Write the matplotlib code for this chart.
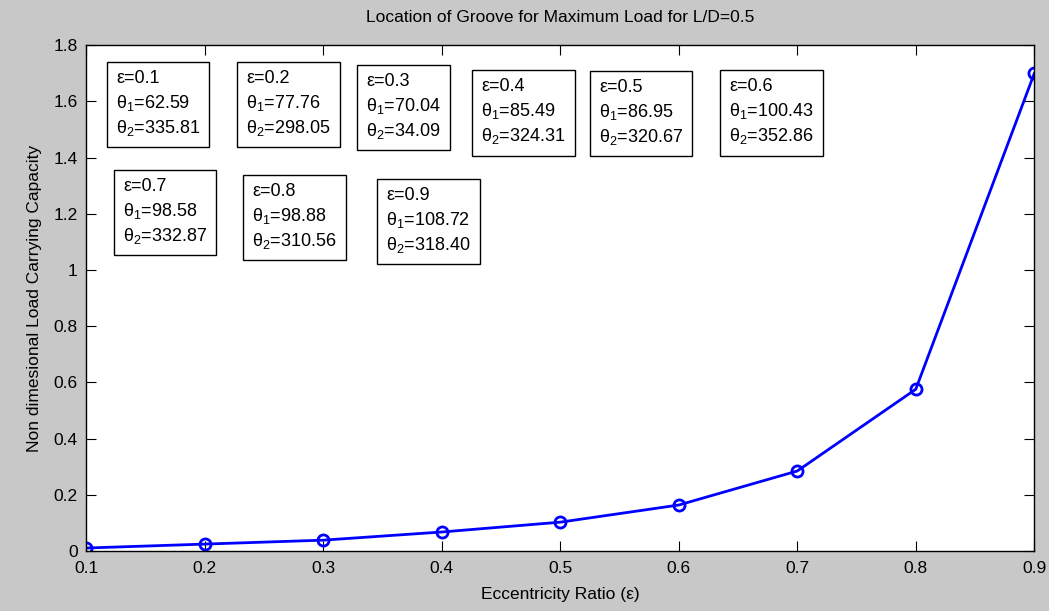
import numpy as np
import matplotlib.pyplot as plt

plt.rcParams['font.family'] = ['Liberation Sans', 'DejaVu Sans']
plt.rcParams['mathtext.fontset'] = 'custom'
plt.rcParams['mathtext.rm'] = 'Liberation Sans'

# eccentricity ratio and non-dimensional load
ecc = [0.1, 0.2, 0.3, 0.4, 0.5, 0.6, 0.7, 0.8, 0.9]
load = [0.011, 0.025, 0.039, 0.068, 0.103, 0.164, 0.285, 0.576, 1.70]

# groove angles for each eccentricity
theta1 = ['62.59', '77.76', '70.04', '85.49', '86.95', '100.43', '98.58', '98.88', '108.72']
theta2 = ['335.81', '298.05', '34.09', '324.31', '320.67', '352.86', '332.87', '310.56', '318.40']

# upper-left corner of each annotation text (data units)
box_x = [0.1253, 0.2350, 0.3363, 0.4333, 0.5329, 0.6426, 0.1312, 0.2401, 0.3532]
box_y = [1.711, 1.711, 1.700, 1.682, 1.679, 1.682, 1.327, 1.309, 1.295]

fig = plt.figure(figsize=(10.49, 6.11), dpi=100, facecolor='#c8c8c8')
ax = fig.add_axes([0.082, 0.098, 0.904, 0.828])
ax.set_facecolor('white')

ax.plot(ecc, load, color='blue', linewidth=2, marker='o', markersize=8,
        markerfacecolor='none', markeredgecolor='blue', markeredgewidth=2)

for i in range(len(ecc)):
    txt = 'ε=%.1f\nθ$_1$=%s\nθ$_2$=%s' % (ecc[i], theta1[i], theta2[i])
    ax.text(box_x[i], box_y[i], txt, fontsize=13, va='top', ha='left',
            linespacing=1.37,
            bbox=dict(boxstyle='square,pad=0.5', facecolor='white',
                      edgecolor='black', linewidth=1))

ax.set_xlim(0.1, 0.9)
ax.set_ylim(0, 1.8)
ax.set_xticks(np.arange(0.1, 0.91, 0.1))
ax.set_yticks(np.arange(0, 1.81, 0.2))
ax.set_xticklabels(['0.1', '0.2', '0.3', '0.4', '0.5', '0.6', '0.7', '0.8', '0.9'])
ax.set_yticklabels(['0', '0.2', '0.4', '0.6', '0.8', '1', '1.2', '1.4', '1.6', '1.8'])
ax.tick_params(direction='in', length=7, top=True, right=True, labelsize=12.5)
ax.tick_params(axis='x', pad=7)
ax.tick_params(axis='y', pad=6)
for s in ax.spines.values():
    s.set_linewidth(1)

ax.set_title('Location of Groove for Maximum Load for L/D=0.5', fontsize=12.5, pad=17)
ax.set_xlabel('Eccentricity Ratio (ε)', fontsize=12.5, labelpad=8)
ax.set_ylabel('Non dimesional Load Carrying Capacity', fontsize=12.5, labelpad=8)

fig.savefig('out.png', dpi=100, facecolor=fig.get_facecolor())
